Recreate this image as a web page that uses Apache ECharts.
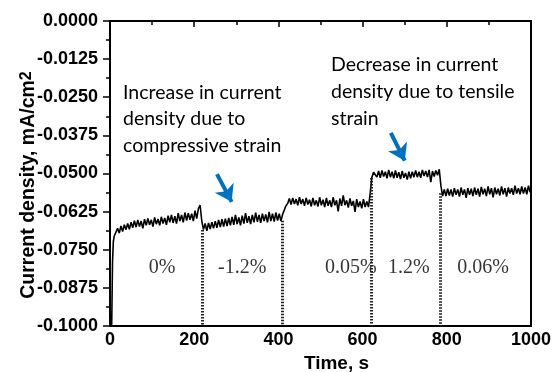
<!DOCTYPE html>
<html>
<head>
<meta charset="utf-8">
<script src="https://cdn.jsdelivr.net/npm/echarts@6/dist/echarts.min.js"></script>
<style>
  html, body { margin: 0; padding: 0; background: #fff; }
  #chart { width: 553px; height: 372px; }
</style>
</head>
<body>
<div id="chart"></div>
<script>
// current density readings, in units of 1e-4 mA/cm2, one every sampleStep seconds
const sampleStep = 4;
const startTimes = [4, 6, 8, 10, 12];
const startCurrent = [-1000, -790, -722, -706, -699];

const zeroStrainStart = 14;
const zeroStrainCurrent = [
  -700, -680, -695, -672, -690, -668, -684, -664, -683, -660,
  -678, -655, -676, -652, -674, -656, -680, -650, -670, -647,
  -668, -652, -674, -644, -666, -649, -670, -642, -664, -646,
  -668, -638, -660, -636, -662, -640, -664, -630, -656, -636,
  -660, -628, -654, -630, -652, -632, -656, -622, -648, -615,
  -604
];

const compressiveStart = 218;
const compressiveCurrent = [
  -655, -684, -664, -688, -662, -682, -660, -680, -656, -678,
  -652, -676, -650, -674, -648, -672, -646, -670, -642, -668,
  -636, -666, -644, -670, -638, -664, -630, -662, -640, -666,
  -636, -660, -628, -658, -636, -662, -632, -656, -634, -660,
  -626, -656, -632, -658, -628, -654, -632, -656, -634
];

const smallStrain1Start = 414;
const smallStrain1Current = [
  -635, -606, -598, -582, -602, -580, -600, -584, -604, -578,
  -600, -584, -606, -580, -602, -586, -608, -580, -604, -588,
  -608, -578, -604, -586, -610, -580, -606, -588, -610, -578,
  -604, -588, -624, -582, -606, -572, -604, -588, -612, -582,
  -606, -590, -626, -584, -610, -592, -614, -584, -610, -592,
  -610, -565
];

const tensileStart = 622;
const tensileCurrent = [
  -512, -496, -490, -512, -492, -514, -490, -510, -494, -516,
  -488, -512, -494, -516, -490, -514, -496, -518, -492, -514,
  -498, -520, -494, -516, -494, -512, -490, -512, -494, -514,
  -488, -508, -492, -512, -488, -528, -492, -510, -490, -506,
  -486
];

const smallStrain2Start = 786;
const smallStrain2Current = [
  -540, -574, -552, -574, -550, -572, -552, -576, -548, -570,
  -552, -576, -546, -570, -552, -580, -548, -570, -550, -574,
  -546, -570, -550, -576, -544, -568, -550, -574, -542, -568,
  -548, -578, -546, -568, -550, -572, -542, -568, -548, -576,
  -546, -566, -548, -570, -540, -566, -548, -568, -542, -566,
  -546, -568, -540, -562
];

// strain steps (dotted lines) and their labels
const stepTimes = [218, 410, 621, 784];
const stepTopLevels = [-0.0685, -0.0655, -0.0515, -0.0565];
const phaseNames = ['0%', '-1.2%', '0.05%', '1.2%', '0.06%'];
const phaseLabelTimes = [124, 314, 572, 710, 886];
const phaseLabelLevel = -0.081;

// annotation arrows: [startTime, startLevel, endTime, endLevel]
const arrows = [
  [254, -0.0502, 289, -0.0593],
  [667, -0.0367, 700, -0.0458]
];

const noteCompressive = 'Increase in current\ndensity due to\ncompressive strain';
const noteTensile = 'Decrease in current\ndensity due to tensile\nstrain';

const toPoints = (t0, vals) => vals.map((v, i) => [t0 + i * sampleStep, v * 1e-4]);

const curve = [
  ...startTimes.map((t, i) => [t, startCurrent[i] * 1e-4]),
  ...toPoints(zeroStrainStart, zeroStrainCurrent),
  ...toPoints(compressiveStart, compressiveCurrent),
  ...toPoints(smallStrain1Start, smallStrain1Current),
  ...toPoints(tensileStart, tensileCurrent),
  ...toPoints(smallStrain2Start, smallStrain2Current)
];

const axisFont = { color: '#000', fontFamily: 'Liberation Sans', fontWeight: 'bold', fontSize: 18 };

const chart = echarts.init(document.getElementById('chart'));
chart.setOption({
  animation: false,
  grid: {
    left: 110, right: 22, top: 21, bottom: 46,
    outerBoundsMode: 'none',
    show: true, borderColor: '#000', borderWidth: 2
  },
  xAxis: {
    type: 'value',
    min: 0,
    max: 1000,
    interval: 200,
    name: 'Time, s',
    nameLocation: 'middle',
    nameGap: 27,
    nameTextStyle: { ...axisFont, fontSize: 19, padding: [0, 0, 0, 32] },
    axisLine: { lineStyle: { color: '#000', width: 2 } },
    axisTick: { length: 6, lineStyle: { color: '#000', width: 1.5 } },
    minorTick: { show: true, splitNumber: 2, length: 4, lineStyle: { color: '#000', width: 1.5 } },
    axisLabel: { ...axisFont, margin: 5, formatter: v => String(v) },
    splitLine: { show: false }
  },
  yAxis: {
    type: 'value',
    min: -0.1,
    max: 0,
    interval: 0.0125,
    axisLine: { lineStyle: { color: '#000', width: 2 } },
    axisTick: { length: 7, lineStyle: { color: '#000', width: 1.5 } },
    minorTick: { show: true, splitNumber: 2, length: 4, lineStyle: { color: '#000', width: 1.5 } },
    axisLabel: {
      ...axisFont,
      margin: 12,
      formatter: v => (Math.abs(v) < 1e-9 ? 0 : v).toFixed(4)
    },
    splitLine: { show: false }
  },
  series: [
    {
      name: 'current',
      type: 'line',
      data: curve,
      showSymbol: false,
      clip: true,
      lineStyle: { color: '#000', width: 1.6 },
      markLine: {
        silent: true,
        symbol: ['none', 'none'],
        label: { show: false },
        lineStyle: { color: '#222', width: 3, type: [1.5, 1.5] },
        data: stepTimes.map((t, i) => [{ coord: [t, stepTopLevels[i]] }, { coord: [t, -0.1] }])
      }
    },
    {
      name: 'arrows',
      type: 'line',
      data: [],
      markLine: {
        silent: true,
        symbol: ['none', 'arrow'],
        symbolSize: 16,
        label: { show: false },
        lineStyle: { color: '#0070c0', width: 4, type: 'solid' },
        data: arrows.map(a => [{ coord: [a[0], a[1]] }, { coord: [a[2], a[3]] }])
      }
    },
    {
      name: 'phases',
      type: 'scatter',
      symbolSize: 0,
      data: phaseNames.map((n, i) => ({ name: n, value: [phaseLabelTimes[i], phaseLabelLevel] })),
      label: {
        show: true,
        position: 'inside',
        formatter: '{b}',
        color: '#000',
        fontFamily: 'Liberation Serif',
        fontSize: 20
      }
    }
  ],
  graphic: [
    {
      // y axis title, drawn here so the superscript can be placed freely
      type: 'text',
      x: 29,
      y: 185,
      rotation: Math.PI / 2,
      style: {
        text: '{base|Current density, mA/cm}{sup|2}',
        align: 'center',
        verticalAlign: 'middle',
        rich: {
          base: { ...axisFont, fontSize: 19.5, lineHeight: 20, verticalAlign: 'bottom' },
          sup: { ...axisFont, fontSize: 16, lineHeight: 20, verticalAlign: 'top' }
        }
      }
    },
    {
      type: 'text',
      left: 123,
      top: 79,
      style: { text: noteCompressive, font: '19.5px Lato', lineHeight: 26.5, fill: '#000' }
    },
    {
      type: 'text',
      left: 331,
      top: 51,
      style: { text: noteTensile, font: '19.5px Lato', lineHeight: 27, fill: '#000' }
    }
  ]
});
</script>
</body>
</html>
